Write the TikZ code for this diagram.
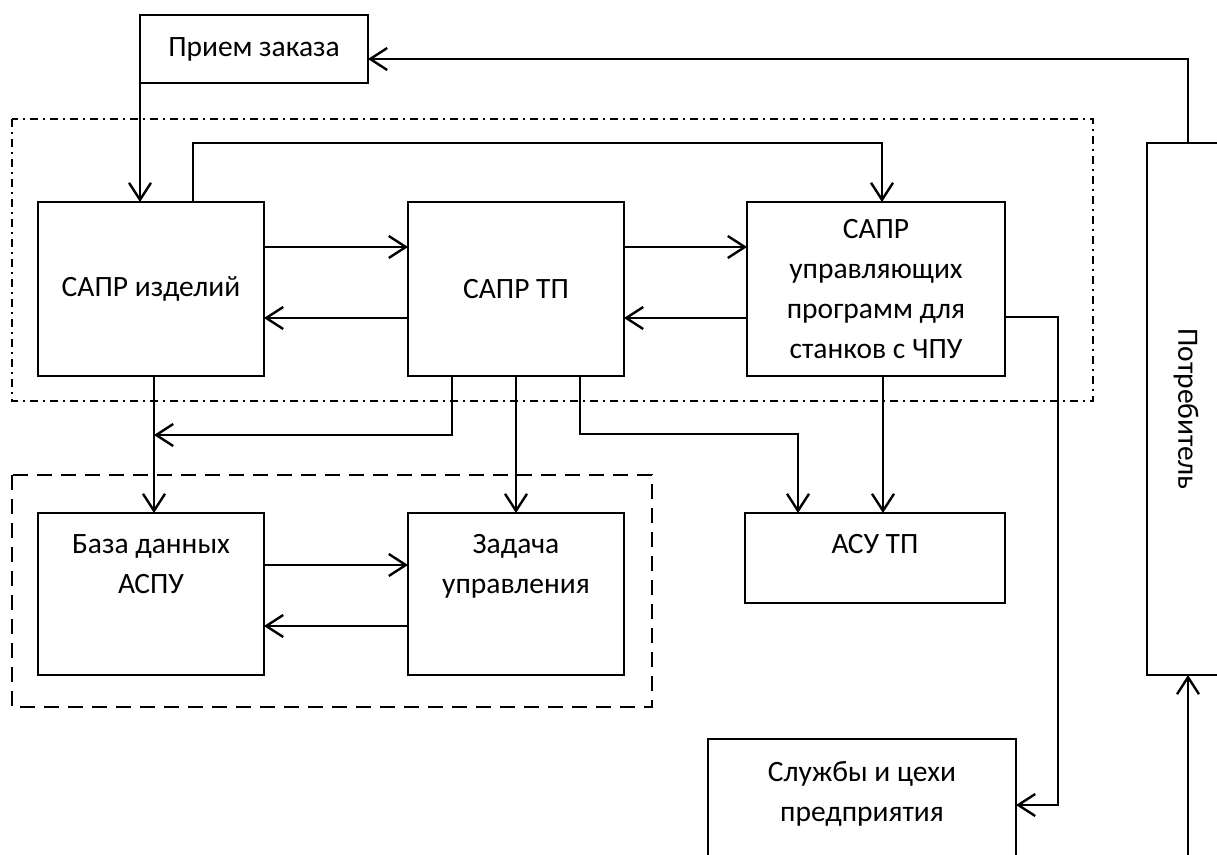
\documentclass[tikz,border=0pt]{standalone}
\usepackage{fontspec}
\setmainfont{Carlito}
\usetikzlibrary{arrows.meta}
\begin{document}
\begin{tikzpicture}[x=1pt,y=-1pt,
  box/.style={draw, line width=1.5pt, inner sep=0pt, outer sep=0pt},
  txt/.style={font=\fontsize{29.5}{40}\selectfont, align=center, inner sep=0pt},
  arr/.style={line width=2.4pt, line join=miter, -{Straight Barb[length=17pt,width=22pt,line width=2.4pt]}},
  dashdot/.style={line width=1.6pt, dash pattern=on 8pt off 5pt on 2pt off 5pt},
  dashbox/.style={line width=1.6pt, dash pattern=on 15pt off 9pt}]
\useasboundingbox (0,0) rectangle (1217,854);

% group frames
\draw[dashdot] (12,119) rectangle (1093,401);
\draw[dashbox] (12,475) rectangle (652,707);

% boxes
\node[box, txt, minimum width=228, minimum height=68] (priem) at (254,49) {Прием заказа};
\node[box, txt, minimum width=226, minimum height=174] (izd) at (151,289) {САПР изделий};
\node[box, txt, minimum width=216, minimum height=174] (tp) at (516,289) {САПР ТП};
\node[box, txt, minimum width=258, minimum height=174] (up) at (876,289) {САПР\\управляющих\\программ для\\станков с ЧПУ};
\node[box, minimum width=226, minimum height=162] (bd) at (151,594) {};
\node[box, minimum width=216, minimum height=162] (zad) at (516,594) {};
\node[box, minimum width=260, minimum height=90] (asu) at (875,558) {};
\node[box, minimum width=308, minimum height=142] (sl) at (862,810) {};
\node[box, minimum width=82, minimum height=532] (potr) at (1188,409) {};

% texts placed at the top of boxes
\node[txt, anchor=north] (bdt) at ([yshift=-21]bd.north) {База данных\\АСПУ};
\node[txt, anchor=north] (zadt) at ([yshift=-21]zad.north) {Задача\\управления};
\node[txt, anchor=north] (asut) at ([yshift=-21]asu.north) {АСУ ТП};
\node[txt, anchor=north] (slt) at ([yshift=-22]sl.north) {Службы и цехи\\предприятия};
\node[txt, rotate=-90] (potrt) at ([xshift=-2]potr.center) {Потребитель};

% connectors
\draw[arr] (priem.south west) -- (priem.south west |- izd.north);
\draw[arr] ([xshift=42]izd.north) -- ++(0,-59) -| ([xshift=6]up.north);
\draw[arr] ([yshift=42]izd.east) -- ([yshift=42]izd.east -| tp.west);
\draw[arr] ([yshift=-29]tp.west) -- ([yshift=-29]tp.west -| izd.east);
\draw[arr] ([yshift=42]tp.east) -- ([yshift=42]tp.east -| up.west);
\draw[arr] ([yshift=-29]up.west) -- ([yshift=-29]up.west -| tp.east);
\draw[arr] ([xshift=3]izd.south) -- ([xshift=3]izd.south |- bd.north);
\path ([xshift=3]izd.south) ++(0,59) coordinate (j1);
\draw[arr] ([xshift=-64]tp.south) |- (j1);
\draw[arr] (tp.south) -- (zad.north);
\draw[arr] ([xshift=64]tp.south) -- ++(0,58) -| ([xshift=-77]asu.north);
\draw[arr] ([xshift=7]up.south) -- ([xshift=7]up.south |- asu.north);
\draw[arr] ([yshift=-28]up.east) -- ++(53,0) |- ([yshift=5]sl.east);
\draw[arr] ([yshift=29]bd.east) -- ([yshift=29]bd.east -| zad.west);
\draw[arr] ([yshift=-32]zad.west) -- ([yshift=-32]zad.west -| bd.east);
\draw[arr] (potr.north) |- ([yshift=-10]priem.east);
\coordinate (bot) at (1188,860);
\draw[arr] (bot) -- (potr.south);
\end{tikzpicture}
\end{document}
